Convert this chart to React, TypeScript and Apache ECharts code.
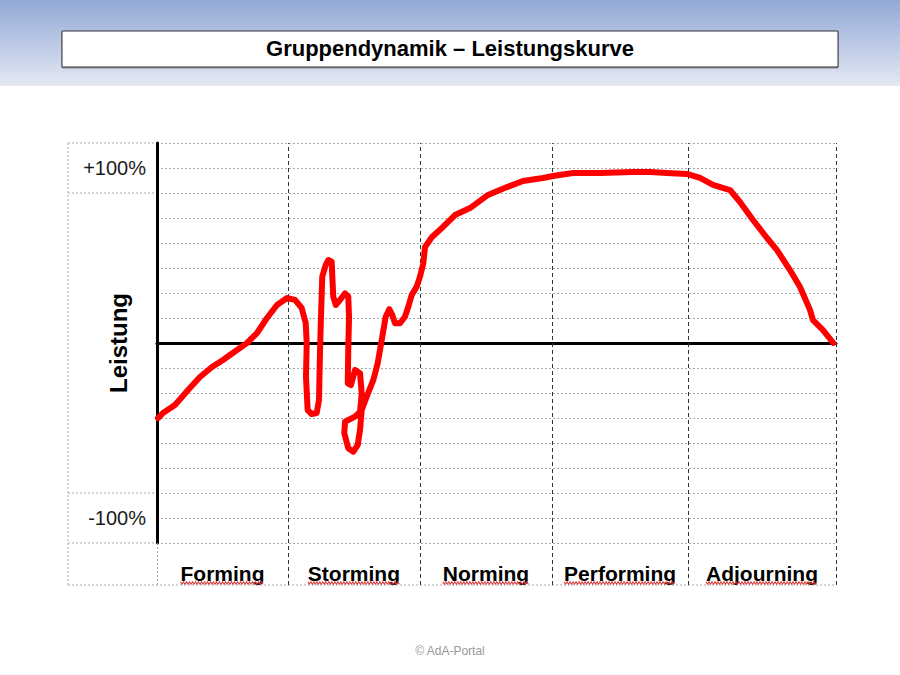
import React, { useEffect, useRef } from "react";
import * as echarts from "echarts";

const chartTitle = "Gruppendynamik – Leistungskurve";
const yAxisName = "Leistung";
const footerText = "© AdA-Portal";
const phaseNames = ["Forming", "Storming", "Norming", "Performing", "Adjourning"];
const phaseBounds = [0, 19.3, 38.7, 58.2, 78.2, 100];
const yTickLabels: Record<string, string> = { "100": "+100%", "-100": "-100%" };

// time (0..100) and Leistung (%) of the hand-drawn curve, in drawing order
const curveX = [
  0.15, 0.88, 2.65, 3.68, 4.57, 6.33, 8.1, 9.72, 11.78, 13.25,
  14.73, 16.2, 17.67, 19.15, 20.32, 21.31, 21.9, 22.05, 21.94, 22.19,
  22.78, 23.52, 23.86, 24.01, 24.15, 24.34, 24.85, 25.23, 25.73, 25.82,
  25.96, 26.32, 26.95, 27.69, 28.17, 28.28, 28.17, 28.09, 28.57, 29.16,
  29.9, 30.15, 29.9, 29.16, 27.69, 27.58, 28.17, 28.91, 29.56, 29.9,
  30.15, 30.88, 31.86, 32.5, 33.18, 33.68, 34.21, 34.65, 35.05, 35.79,
  36.52, 37.01, 37.51, 38.25, 38.73, 39.22, 39.47, 40.5, 42.12, 43.89,
  46.1, 48.75, 51.55, 53.9, 56.85, 58.32, 61.27, 65.24, 70.1, 72.61,
  75.11, 78.06, 79.97, 81.89, 84.39, 85.86, 87.78, 89.84, 91.31, 93.22,
  94.7, 96.17, 96.61, 98.09, 99.6,
];
const curveY = [
  -42.9, -40.0, -35.4, -30.9, -26.9, -19.4, -13.7, -9.7, -4.0, 0.0,
  5.7, 14.3, 21.7, 25.7, 24.6, 20.0, 11.4, 0.0, -19.4, -38.3,
  -40.6, -40.0, -32.6, -4.0, 14.9, 37.9, 44.6, 47.4, 46.5, 37.9,
  26.5, 21.7, 24.6, 28.4, 26.5, 15.0, -4.0, -23.0, -24.0, -15.4,
  -17.3, -28.7, -39.3, -42.1, -45.0, -51.6, -60.2, -62.1, -58.3, -49.7,
  -38.3, -30.7, -21.1, -11.6, 3.6, 15.0, 19.3, 16.0, 11.3, 11.3,
  15.0, 20.7, 27.4, 32.2, 37.9, 45.5, 54.9, 60.6, 66.3, 73.1,
  77.1, 84.6, 89.1, 92.6, 94.3, 95.4, 97.1, 97.1, 97.7, 97.7,
  97.1, 96.6, 94.3, 90.3, 87.4, 80.6, 70.3, 60.0, 53.1, 41.7,
  32.0, 18.9, 13.1, 7.4, 0.0,
];

const FONT = "'Liberation Sans', Arial, Helvetica, sans-serif";
const STEP = 100 / 7;
const GRID_LEFT = 157;
const GRID_RIGHT = 64;
const GRID_TOP = 143;
const GRID_H = 400;
const ROW_H = 42;
const TABLE_LEFT = 68;
const LIGHT = "#a8a8a8";
const LABEL_FONT_SIZE = 21;

export default function App() {
  const ref = useRef<HTMLDivElement>(null);

  useEffect(() => {
    if (!ref.current) return;
    const chart = echarts.init(ref.current, null, { renderer: "svg" });

    const centers = phaseNames.map((_, i) => (phaseBounds[i] + phaseBounds[i + 1]) / 2);

    chart.setOption({
      animation: false,
      backgroundColor: "#ffffff",
      title: [
        {
          text: chartTitle,
          left: "center",
          top: 32,
          textStyle: { fontFamily: FONT, fontSize: 22, fontWeight: "bold", color: "#000" },
        },
        {
          text: footerText,
          left: "center",
          top: 640,
          textStyle: { fontFamily: FONT, fontSize: 12, fontWeight: "normal", color: "#9a9a9a" },
        },
      ],
      grid: [
        { left: GRID_LEFT, right: GRID_RIGHT, top: GRID_TOP, height: GRID_H },
        { left: GRID_LEFT, right: GRID_RIGHT, top: GRID_TOP + GRID_H, height: ROW_H },
      ],
      xAxis: [
        {
          gridIndex: 0,
          type: "value",
          min: 0,
          max: 100,
          axisLine: { show: true, onZero: true, lineStyle: { color: "#000", width: 3 } },
          axisTick: { show: false },
          axisLabel: { show: false },
          splitLine: { show: false },
          z: 4,
        },
        {
          gridIndex: 1,
          type: "value",
          min: 0,
          max: 100,
          show: false,
        },
      ],
      yAxis: [
        {
          gridIndex: 0,
          type: "value",
          min: -8 * STEP,
          max: 8 * STEP,
          interval: STEP,
          axisLine: { show: true, onZero: false, lineStyle: { color: "#000", width: 3 } },
          axisTick: { show: false },
          axisLabel: {
            formatter: (v: number) => yTickLabels[String(Math.round(v))] || "",
            color: "#1a1a1a",
            fontFamily: FONT,
            fontSize: 20,
            margin: 11,
          },
          splitLine: { show: true, lineStyle: { color: LIGHT, type: [2, 2], width: 1 } },
          name: yAxisName,
          nameLocation: "middle",
          nameRotate: 90,
          nameGap: 27,
          nameMoveOverlap: false,
          nameTextStyle: { fontFamily: FONT, fontSize: 24, fontWeight: "bold", color: "#000" },
          z: 4,
        },
        {
          gridIndex: 1,
          type: "value",
          min: 0,
          max: 1,
          show: false,
        },
      ],
      series: [
        {
          name: "phases",
          type: "line",
          xAxisIndex: 0,
          yAxisIndex: 0,
          data: [[0, 0]],
          showSymbol: false,
          lineStyle: { opacity: 0 },
          silent: true,
          z: 1,
          markLine: {
            silent: true,
            symbol: "none",
            label: { show: false },
            lineStyle: { color: "#333", type: [4, 3], width: 1 },
            data: phaseBounds.slice(1).map((b) => ({ xAxis: b })),
          },
        },
        {
          name: "Leistung",
          type: "line",
          xAxisIndex: 0,
          yAxisIndex: 0,
          data: curveX.map((x, i) => [x, curveY[i]]),
          showSymbol: false,
          smooth: false,
          lineStyle: { color: "#ff0000", width: 6, cap: "round", join: "round" },
          z: 6,
        },
        {
          name: "phaseRow",
          type: "line",
          xAxisIndex: 1,
          yAxisIndex: 1,
          data: [[0, 0]],
          showSymbol: false,
          lineStyle: { opacity: 0 },
          silent: true,
          markLine: {
            silent: true,
            symbol: "none",
            label: { show: false },
            lineStyle: { color: "#333", type: [4, 3], width: 1 },
            data: [
              { xAxis: 0, lineStyle: { color: LIGHT, type: [2, 2] } },
              ...phaseBounds.slice(1).map((b) => ({ xAxis: b })),
            ],
          },
        },
      ],
    });

    // table / frame decorations aligned to the axes
    const py = (v: number) => chart.convertToPixel({ yAxisIndex: 0 }, v) as number;
    const px = (v: number) => chart.convertToPixel({ xAxisIndex: 0 }, v) as number;
    const rowY = (v: number) => chart.convertToPixel({ yAxisIndex: 1 }, v) as number;
    const rowBottom = GRID_TOP + GRID_H + ROW_H;
    const x0 = px(0);
    const x1 = px(100);
    const dotted = { stroke: LIGHT, lineWidth: 1, lineDash: [2, 2] };
    const hLines = [8 * STEP, 6 * STEP, -6 * STEP, -8 * STEP].map((v) => ({
      type: "line",
      silent: true,
      shape: { x1: TABLE_LEFT, y1: py(v), x2: x0, y2: py(v) },
      style: dotted,
    }));

    const labelY = rowY(0.27);
    const phaseTexts = phaseNames.map((n, i) => ({
      type: "text",
      silent: true,
      z: 10,
      x: px(centers[i]),
      y: labelY,
      style: {
        text: n,
        fill: "#000",
        font: `bold ${LABEL_FONT_SIZE}px ${FONT}`,
        align: "center",
        verticalAlign: "middle",
      },
    }));

    // spell-check style squiggles under the phase names
    const canvas = document.createElement("canvas");
    const ctx = canvas.getContext("2d");
    const squiggles: any[] = [];
    if (ctx) {
      ctx.font = `bold ${LABEL_FONT_SIZE}px ${FONT}`;
      phaseNames.forEach((n, i) => {
        const w = ctx.measureText(n).width;
        const c = px(centers[i]);
        const pts: number[][] = [];
        let k = 0;
        for (let x = c - w / 2; x <= c + w / 2; x += 1.5, k++) {
          pts.push([x, rowBottom - 2 + (k % 2 ? 1.2 : -1.2)]);
        }
        squiggles.push({
          type: "polyline",
          silent: true,
          z: 11,
          shape: { points: pts },
          style: { stroke: "#d43c3c", lineWidth: 1.1, fill: null },
        });
      });
    }

    chart.setOption({
      graphic: [
        {
          type: "rect",
          silent: true,
          z: -10,
          shape: { x: 0, y: 0, width: 900, height: 86 },
          style: {
            fill: new echarts.graphic.LinearGradient(0, 0, 0, 1, [
              { offset: 0, color: "#93a8d7" },
              { offset: 1, color: "#e4e9f3" },
            ]),
          },
        },
        {
          type: "rect",
          silent: true,
          z: -5,
          shape: { x: 62, y: 31, width: 776, height: 36 },
          style: {
            fill: "#ffffff",
            stroke: "#333",
            lineWidth: 1,
            shadowBlur: 1,
            shadowOffsetY: 1,
            shadowColor: "rgba(0,0,0,0.35)",
          },
        },
        {
          type: "line",
          silent: true,
          shape: { x1: TABLE_LEFT, y1: GRID_TOP, x2: TABLE_LEFT, y2: rowBottom },
          style: dotted,
        },
        {
          type: "line",
          silent: true,
          shape: { x1: TABLE_LEFT, y1: rowBottom, x2: x1, y2: rowBottom },
          style: dotted,
        },
        ...hLines,
        ...phaseTexts,
        ...squiggles,
      ],
    });

    return () => chart.dispose();
  }, []);

  return (
    <div
      ref={ref}
      style={{ position: "fixed", left: 0, top: 0, width: 900, height: 675, background: "#fff" }}
    />
  );
}
